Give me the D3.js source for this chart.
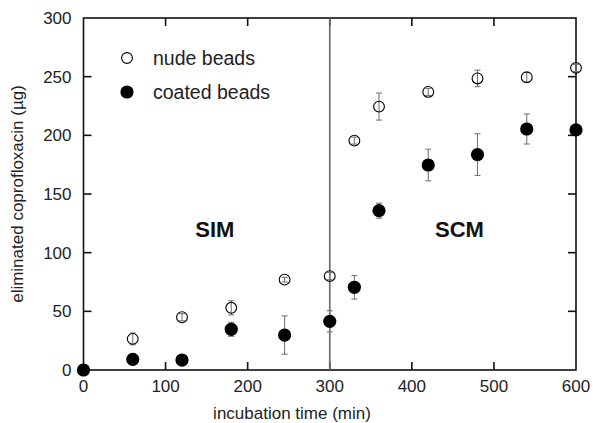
<!DOCTYPE html>
<html>
<head>
<meta charset="utf-8">
<script src="https://cdn.jsdelivr.net/npm/d3@7"></script>
<style>
  body { margin: 0; background: #fff; }
  svg { display: block; font-family: "Liberation Sans", Arial, sans-serif; }
</style>
</head>
<body>
<div id="chart"></div>
<script>
const times = [0, 60, 120, 180, 245, 300, 330, 360, 420, 480, 540, 600];
const nudeValues = [0, 26.5, 45, 53, 77, 80, 195.5, 224.5, 237, 248.5, 249.5, 257.5];
const nudeErrors = [0, 5, 3, 6, 2, 3, 3, 11.5, 3, 7, 4, 3];
const coatedValues = [0, 9, 8.5, 34.7, 29.8, 41.5, 70.5, 135.8, 174.7, 183.6, 205.4, 204.6];
const coatedErrors = [0, 3, 2, 6, 16.3, 9, 10, 6.4, 13.5, 17.8, 12.8, 4];
const xTicks = [0, 100, 200, 300, 400, 500, 600];
const yTicks = [0, 50, 100, 150, 200, 250, 300];
const regionLabels = [
  { text: "SIM", t: 160, v: 120 },
  { text: "SCM", t: 458, v: 120 },
];

const width = 593;
const height = 423;
const margin = { top: 18, right: 17, bottom: 53, left: 83.5 };
const tickLen = 8;

const x = d3.scaleLinear().domain([0, 600]).range([margin.left, width - margin.right]);
const y = d3.scaleLinear().domain([0, 300]).range([height - margin.bottom, margin.top]);

const svg = d3.select("#chart").append("svg")
  .attr("width", width)
  .attr("height", height)
  .attr("viewBox", [0, 0, width, height]);

// frame and inward ticks
const gFrame = svg.append("g").attr("stroke", "#111").attr("stroke-width", 1.6);
gFrame.append("rect")
  .attr("x", x(0)).attr("y", y(300))
  .attr("width", x(600) - x(0)).attr("height", y(0) - y(300))
  .attr("fill", "none");

gFrame.selectAll(".tick-b").data(xTicks.slice(1, -1)).join("line")
  .attr("class", "tick-b")
  .attr("x1", (d) => x(d)).attr("x2", (d) => x(d))
  .attr("y1", y(0)).attr("y2", y(0) - tickLen);
gFrame.selectAll(".tick-t").data(xTicks.slice(1, -1)).join("line")
  .attr("class", "tick-t")
  .attr("x1", (d) => x(d)).attr("x2", (d) => x(d))
  .attr("y1", y(300)).attr("y2", y(300) + tickLen);
gFrame.selectAll(".tick-l").data(yTicks.slice(1, -1)).join("line")
  .attr("class", "tick-l")
  .attr("x1", x(0)).attr("x2", x(0) + tickLen)
  .attr("y1", (d) => y(d)).attr("y2", (d) => y(d));
gFrame.selectAll(".tick-r").data(yTicks.slice(1, -1)).join("line")
  .attr("class", "tick-r")
  .attr("x1", x(600)).attr("x2", x(600) - tickLen)
  .attr("y1", (d) => y(d)).attr("y2", (d) => y(d));

// tick labels
svg.append("g").selectAll("text").data(xTicks).join("text")
  .attr("x", (d) => x(d)).attr("y", y(0) + 22)
  .attr("text-anchor", "middle")
  .attr("font-size", 17).attr("fill", "#222")
  .text((d) => d);
svg.append("g").selectAll("text").data(yTicks).join("text")
  .attr("x", x(0) - 12).attr("y", (d) => y(d)).attr("dy", "0.35em")
  .attr("text-anchor", "end")
  .attr("font-size", 17).attr("fill", "#222")
  .text((d) => d);

// axis titles
svg.append("text")
  .attr("x", 292).attr("y", 419)
  .attr("text-anchor", "middle")
  .attr("font-size", 17).attr("fill", "#222")
  .text("incubation time (min)");
svg.append("text")
  .attr("transform", `translate(23,${(y(0) + y(300)) / 2}) rotate(-90)`)
  .attr("text-anchor", "middle")
  .attr("font-size", 17).attr("fill", "#222")
  .text("eliminated coprofloxacin (µg)");

// divider between SIM and SCM
svg.append("line")
  .attr("x1", x(300)).attr("x2", x(300))
  .attr("y1", y(300)).attr("y2", y(0))
  .attr("stroke", "#666").attr("stroke-width", 1.6);

svg.append("g").selectAll("text").data(regionLabels).join("text")
  .attr("x", (d) => x(d.t)).attr("y", (d) => y(d.v)).attr("dy", "0.35em")
  .attr("text-anchor", "middle")
  .attr("font-size", 22).attr("font-weight", "bold").attr("fill", "#111")
  .text((d) => d.text);

function drawSeries(values, errors, filled, r) {
  const data = times.map((t, i) => ({ t, v: values[i], e: errors[i] }));
  const g = svg.append("g");
  const err = g.selectAll(".err").data(data.filter((d) => d.e > 0)).join("g")
    .attr("stroke", "#777").attr("stroke-width", 1.1);
  err.append("line")
    .attr("x1", (d) => x(d.t)).attr("x2", (d) => x(d.t))
    .attr("y1", (d) => y(d.v - d.e)).attr("y2", (d) => y(d.v + d.e));
  [1, -1].forEach((s) => {
    err.append("line")
      .attr("x1", (d) => x(d.t) - 3).attr("x2", (d) => x(d.t) + 3)
      .attr("y1", (d) => y(d.v + s * d.e)).attr("y2", (d) => y(d.v + s * d.e));
  });
  g.selectAll("circle").data(data).join("circle")
    .attr("cx", (d) => x(d.t)).attr("cy", (d) => y(d.v))
    .attr("r", r)
    .attr("fill", filled ? "#000" : "none")
    .attr("stroke", "#000").attr("stroke-width", filled ? 0 : 1.1);
}

drawSeries(nudeValues, nudeErrors, false, 5.4);
drawSeries(coatedValues, coatedErrors, true, 6.6);

// legend
const legend = [
  { label: "nude beads", filled: false, r: 5.4 },
  { label: "coated beads", filled: true, r: 6.6 },
];
const gLegend = svg.append("g");
legend.forEach((d, i) => {
  const cy = 58 + i * 34;
  gLegend.append("circle")
    .attr("cx", 127).attr("cy", cy).attr("r", d.r)
    .attr("fill", d.filled ? "#000" : "none")
    .attr("stroke", "#000").attr("stroke-width", d.filled ? 0 : 1.1);
  gLegend.append("text")
    .attr("x", 153).attr("y", cy + 7)
    .attr("font-size", 19.5).attr("fill", "#222")
    .text(d.label);
});
</script>
</body>
</html>
